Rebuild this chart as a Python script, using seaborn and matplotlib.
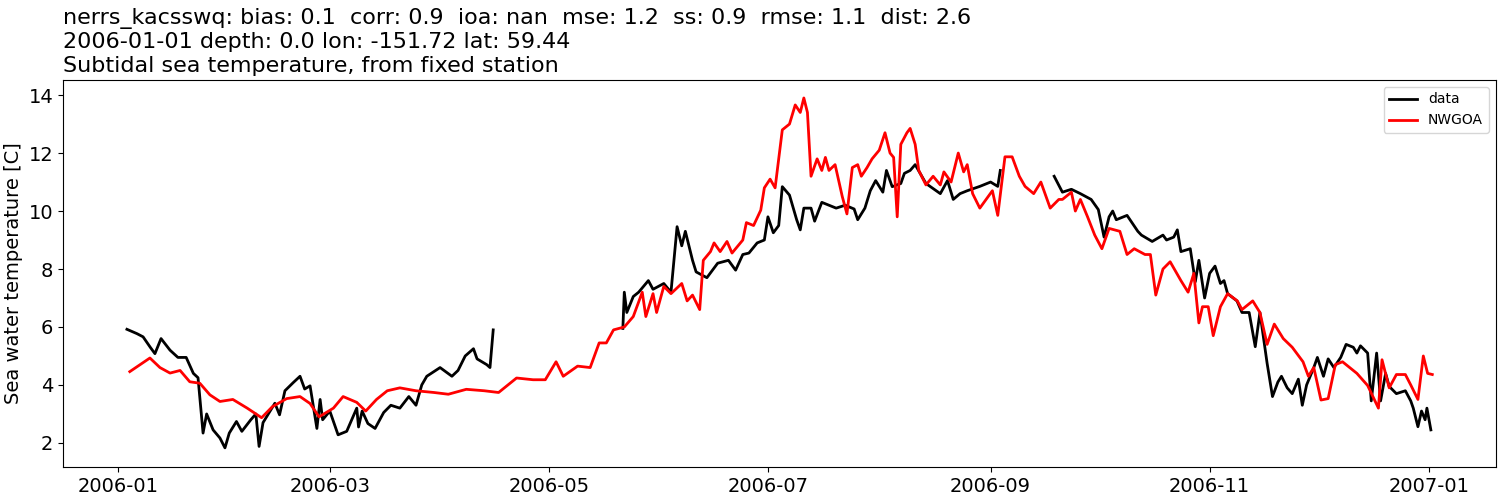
import pandas as pd
import numpy as np
import matplotlib
matplotlib.use("Agg")
import matplotlib.pyplot as plt
import seaborn as sns

# observations (days since 2006-01-01), NaN marks gaps in the record
obs_days = [2.5, 5.3, 7, 9, 10.3, 12, 14.5, 16.7, 19, 21, 22.3, 23.7, 24.7, 26.5, 28.4, 29.8, 31, 33,
            34.5, 37, 38.4, 39.3, 40.4, 43.7, 45, 46.5, 48.8, 50.7, 52, 53.5, 55.4, 56.3, 57, 59, 61.3,
            63.7, 66.5, 67, 68, 69.6, 71.6, 74, 76, 78.5, 81, 83, 84.6, 86, 89.7, 93, 94.7, 96.7, 99,
            100, 102.7, 103.6, 104.5, 120,
            140.6, 141, 141.7, 143.5, 145, 147.7, 149, 152, 154, 155.7, 157, 158, 160, 161, 164, 167,
            170, 172, 174, 175.7, 178, 180, 181, 182.5, 184, 185, 187, 189, 190, 191, 193, 194, 196,
            198, 200, 202.5, 205, 206, 208, 209.5, 211, 213, 214, 215.6, 218, 219, 220.6, 222, 225,
            229, 231, 232.6, 234.5, 236.5, 240, 243, 245, 245.7, 252,
            260.7, 263, 265.5, 268, 271, 273, 274.6, 276, 277, 278, 281, 284, 285, 288, 291, 292, 294,
            295, 296, 298.6, 300, 301, 302.6, 304, 305.5, 307, 308, 309, 311.6, 313, 315, 316.7, 318,
            320, 321.5, 323, 324, 325.6, 327, 328.7, 329.8, 331, 333, 334, 335.7, 337, 338.6, 340.5,
            342, 344, 345, 346, 348, 349, 350.5, 351.6, 353, 354, 356, 358.5, 360, 360.7, 362, 363,
            364, 364.5, 365.6]
obs_vals = [5.92, 5.77, 5.66, 5.3, 5.08, 5.6, 5.2, 4.95, 4.95, 4.4, 4.25, 2.34, 3.0, 2.45, 2.17, 1.83,
            2.34, 2.74, 2.4, 2.8, 3.0, 1.88, 2.7, 3.37, 2.97, 3.8, 4.08, 4.3, 3.86, 3.97, 2.5, 3.5, 2.8,
            3.1, 2.28, 2.4, 3.2, 2.55, 3.1, 2.67, 2.5, 3.05, 3.3, 3.2, 3.6, 3.3, 4.0, 4.3, 4.6, 4.3,
            4.5, 5.0, 5.25, 4.9, 4.7, 4.6, 5.9, np.nan,
            5.95, 7.2, 6.5, 7.05, 7.2, 7.6, 7.3, 7.5, 7.2, 9.46, 8.8, 9.3, 8.3, 7.9, 7.7, 8.2, 8.3,
            7.96, 8.5, 8.55, 8.9, 9.0, 9.8, 9.25, 9.5, 10.84, 10.55, 9.7, 9.35, 10.1, 10.1, 9.65,
            10.3, 10.2, 10.1, 10.2, 10.07, 9.7, 10.1, 10.7, 11.05, 10.65, 11.4, 10.84, 10.95, 11.3,
            11.4, 11.6, 10.95, 10.6, 11.05, 10.4, 10.6, 10.7, 10.85, 11.0, 10.85, 11.4, np.nan,
            11.2, 10.65, 10.75, 10.6, 10.4, 10.05, 9.1, 9.8, 10.0, 9.7, 9.85, 9.3, 9.17, 8.95, 9.17,
            9.0, 9.1, 9.35, 8.6, 8.7, 7.56, 8.3, 7.0, 7.85, 8.1, 7.5, 7.6, 7.15, 6.9, 6.5, 6.5, 5.32,
            6.5, 4.75, 3.6, 4.1, 4.3, 3.9, 3.7, 4.2, 3.3, 4.0, 4.6, 4.95, 4.3, 4.9, 4.6, 4.95, 5.4,
            5.3, 5.1, 5.35, 5.1, 3.45, 5.1, 3.45, 4.4, 3.95, 3.7, 3.8, 3.45, 3.2, 2.56, 3.1, 2.8,
            3.2, 2.45]

# NWGOA model
mod_days = [3.3, 8.9, 11.7, 14.5, 17.3, 20, 22.8, 25.6, 28.4, 32, 36, 40, 43, 47, 50.7, 53.5, 56, 60,
            62.7, 66.5, 69, 72, 75, 78.5, 83, 88, 92, 97, 102, 106, 111, 115.6, 119, 122, 124, 128,
            131.5, 134, 136, 138, 141, 143.5, 146, 147, 149, 150, 152, 154, 157, 158.5, 160, 162, 163,
            165, 166, 167.7, 169.6, 171, 174, 175, 177, 179, 180, 181.6, 183, 185, 187, 188.6, 190,
            191, 192, 193, 194.7, 196, 197, 198, 199.7, 201.7, 203, 204.5, 206, 207, 208.6, 210, 212,
            213.6, 215, 216, 217, 218, 219.7, 220.6, 222, 223, 225, 227, 229, 230, 232, 234, 235.5,
            236.5, 238, 240, 243.5, 245, 247, 249, 251, 252.6, 255, 257, 259.6, 262, 263, 265.5,
            266.6, 268, 270, 272, 274, 276, 279, 281, 283, 286, 287.5, 289, 291, 293, 296, 298,
            299.6, 301, 302, 303.6, 305, 307, 309, 311.7, 313, 316, 318, 320, 322, 324.5, 327, 330,
            331.5, 333, 335, 337, 339, 341, 345, 348, 351, 352, 354, 356, 358.5, 360, 362, 363.5,
            364.7, 366]
mod_vals = [4.46, 4.93, 4.6, 4.41, 4.5, 4.11, 4.06, 3.66, 3.43, 3.5, 3.2, 2.87, 3.25, 3.53, 3.6,
            3.36, 2.9, 3.2, 3.6, 3.4, 3.1, 3.5, 3.8, 3.9, 3.8, 3.74, 3.68, 3.85, 3.8, 3.74, 4.24,
            4.18, 4.18, 4.8, 4.3, 4.65, 4.6, 5.45, 5.45, 5.9, 6.0, 6.36, 7.2, 6.36, 7.15, 6.5, 7.4,
            7.15, 7.5, 6.9, 7.1, 6.6, 8.3, 8.6, 8.9, 8.6, 8.95, 8.55, 9.0, 9.6, 9.5, 10.03, 10.8, 11.1,
            10.8, 12.8, 13.0, 13.66, 13.4, 13.9, 13.4, 11.2, 11.8, 11.4, 11.85, 11.4, 11.6, 10.5, 9.9,
            11.5, 11.6, 11.2, 11.5, 11.8, 12.1, 12.7, 12.0, 11.85, 9.8, 12.3, 12.7, 12.85, 12.3, 11.4,
            10.9, 11.2, 10.9, 11.35, 11.0, 12.0, 11.35, 11.6, 10.6, 10.1, 10.7, 9.85, 11.87, 11.87,
            11.2, 10.85, 10.6, 11.0, 10.1, 10.4, 10.4, 10.65, 10.0, 10.4, 9.8, 9.17, 8.7, 9.4, 9.3,
            8.5, 8.7, 8.5, 8.5, 7.1, 8.0, 8.25, 7.6, 7.2, 7.85, 6.14, 6.7, 6.7, 5.7, 6.7, 7.15, 6.9,
            6.6, 6.9, 6.5, 5.4, 6.1, 5.6, 5.3, 4.8, 4.3, 4.6, 3.48, 3.53, 4.7, 4.8, 4.4, 3.98, 3.2,
            4.87, 3.9, 4.36, 4.36, 4.0, 3.5, 5.0, 4.4, 4.36]

start = pd.Timestamp("2006-01-01")
obs = pd.DataFrame({"time": start + pd.to_timedelta(obs_days, unit="D"), "temp": obs_vals})
mod = pd.DataFrame({"time": start + pd.to_timedelta(mod_days, unit="D"), "temp": mod_vals})

fig = plt.figure(figsize=(15, 5), dpi=100)
ax = fig.add_axes([0.042, 0.066, 0.955, 0.774])

ax.plot(obs["time"], obs["temp"], color="black", lw=2, label="data")
sns.lineplot(data=mod, x="time", y="temp", color="red", lw=2, label="NWGOA", ax=ax)

ax.set_xlim(start - pd.Timedelta(days=15.3), start + pd.Timedelta(days=383.6))
ax.set_ylim(1.17, 14.52)
ax.set_xlabel("")
ax.set_ylabel("Sea water temperature [C]", fontsize=14)
ax.tick_params(labelsize=14)
ax.set_xticks(pd.to_datetime(["2006-01-01", "2006-03-01", "2006-05-01", "2006-07-01",
                              "2006-09-01", "2006-11-01", "2007-01-01"]))
ax.set_xticklabels(["2006-01", "2006-03", "2006-05", "2006-07", "2006-09", "2006-11", "2007-01"])
ax.legend(loc="upper right", fontsize=10)
ax.set_title("nerrs_kacsswq: bias: 0.1  corr: 0.9  ioa: nan  mse: 1.2  ss: 0.9  rmse: 1.1  dist: 2.6\n"
             "2006-01-01 depth: 0.0 lon: -151.72 lat: 59.44\n"
             "Subtidal sea temperature, from fixed station", loc="left", fontsize=16)

fig.savefig("out.png")
